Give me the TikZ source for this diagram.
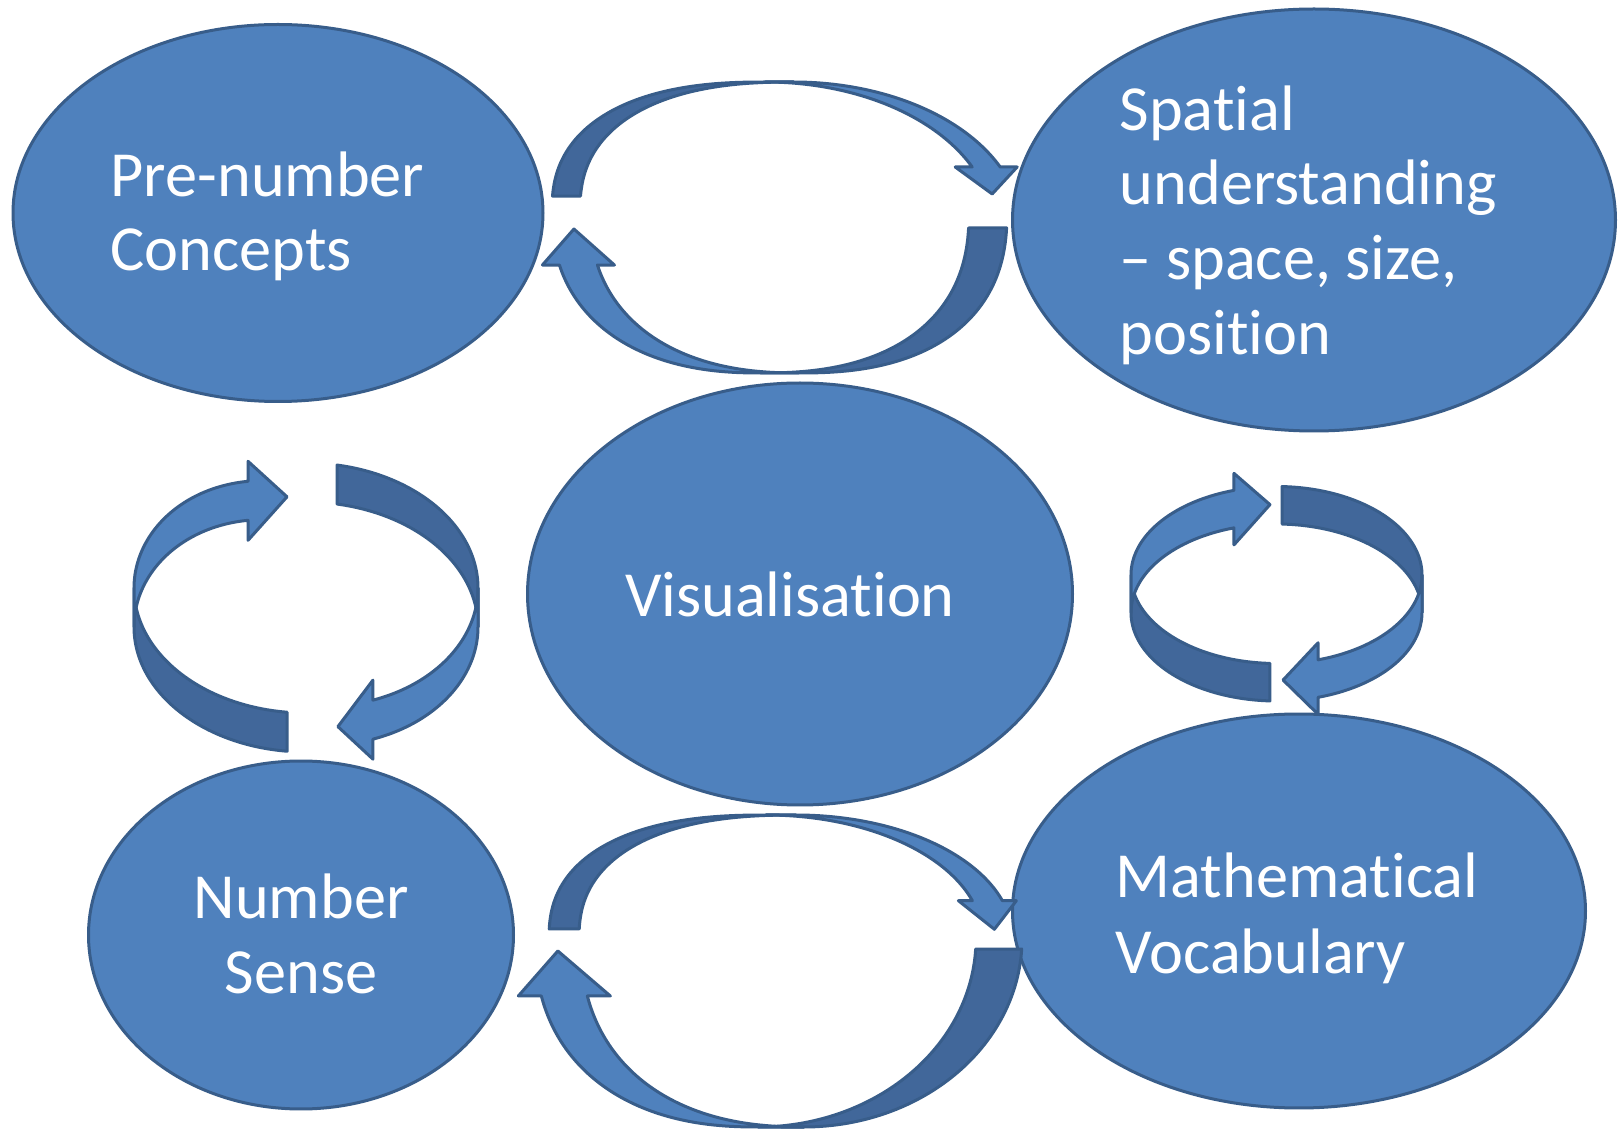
\documentclass[tikz,border=0pt]{standalone}
\usepackage{fontspec}
\setmainfont{Carlito}[Ligatures={CommonOff,ContextualOff}]
\usetikzlibrary{shapes.geometric}
\definecolor{fillb}{HTML}{4F81BD}
\definecolor{darkb}{HTML}{41679A}
\definecolor{lineb}{HTML}{385D8A}
% point of edge k (k=1,0,-1) of a (super)elliptic ribbon at angle #1
\newcommand\cEx[2]{\Ccx+\Crx*cos(#1)*pow(max(abs(cos(#1)),0.0001),\Cp)+(#2)*(\Cox)}
\newcommand\cEy[2]{\Ccy+\Cry*sin(#1)*pow(max(abs(sin(#1)),0.0001),\Cp)+(#2)*(\Coy)}
\newcommand\cRc[3]{(max((#1-(#2))/((#3)-(#2)),0))*(max((#1-(#2))/((#3)-(#2)),0))*(max((#1-(#2))/((#3)-(#2)),0))}
% plain ribbon piece from angle #2 to #3
\newcommand\cycband[3]{%
  \filldraw[#1] plot[domain=#2:#3,samples=60,variable=\t] ({\cEx{\t}{1}},{\cEy{\t}{1}})
   -- plot[domain=#3:#2,samples=60,variable=\t] ({\cEx{\t}{-1}},{\cEy{\t}{-1}}) -- cycle;}
% ribbon piece ending in an arrow head at angle #3
% #4,#5 tip offset from band middle, #6,#7 shift of the head end (cubic ramp)
\newcommand\cychead[7]{%
  \filldraw[#1] plot[domain=#2:#3,samples=60,variable=\t]
      ({\cEx{\t}{1}+(#6)*\cRc{\t}{#2}{#3}},{\cEy{\t}{1}+(#7)*\cRc{\t}{#2}{#3}})
   -- ({\cEx{#3}{1}+\Cbe*(\Cux)+(#6)},{\cEy{#3}{1}+\Cbe*(\Cuy)+(#7)})
   -- ({\cEx{#3}{0}+(#4)+(#6)},{\cEy{#3}{0}+(#5)+(#7)})
   -- ({\cEx{#3}{-1}-\Cbe*(\Cux)+(#6)},{\cEy{#3}{-1}-\Cbe*(\Cuy)+(#7)})
   -- plot[domain=#3:#2,samples=60,variable=\t]
      ({\cEx{\t}{-1}+(#6)*\cRc{\t}{#2}{#3}},{\cEy{\t}{-1}+(#7)*\cRc{\t}{#2}{#3}}) -- cycle;}
\begin{document}
\begin{tikzpicture}[x=0.1mm, y=-0.1mm,
  ell/.style={ellipse, draw=lineb, fill=fillb, line width=0.3mm, inner sep=0pt},
  lt/.style={draw=lineb, fill=fillb, line width=0.3mm, line join=round},
  dk/.style={draw=lineb, fill=darkb, line width=0.3mm, line join=round},
  lbl/.style={text=white, inner sep=0pt, font=\fontsize{18.3pt}{21pt}\selectfont}]
\useasboundingbox (0,0) rectangle (1620,1131);
\fill[white] (0,0) rectangle (1620,1131);

% ellipses
\node[ell, minimum width=53.0mm, minimum height=37.7mm] (pre) at (278,213) {};
\node[ell, minimum width=60.3mm, minimum height=42.2mm] (spa) at (1314,220) {};
\node[ell, minimum width=54.5mm, minimum height=42.2mm] (vis) at (800,594) {};
\node[ell, minimum width=42.5mm, minimum height=34.8mm] (num) at (301,935) {};
\node[ell, minimum width=57.3mm, minimum height=39.4mm] (mat) at (1299,911) {};

% labels
\node[lbl, anchor=base west] (pn1) at (110,196.7) {Pre-number};
\node[lbl, anchor=base west] (pn2) at (110,271) {Concepts};
\node[lbl, anchor=base west] (sp1) at (1119,131) {Spatial};
\node[lbl, anchor=base west] (sp2) at (1119,205) {understanding};
\node[lbl, anchor=base west] (sp3) at (1119,280) {– space, size,};
\node[lbl, anchor=base west] (sp4) at (1119,355) {position};
\node[lbl, anchor=base] (vi1) at (790,617) {Visualisation};
\node[lbl, anchor=base] (ns1) at (301,918) {Number};
\node[lbl, anchor=base] (ns2) at (301,994) {Sense};
\node[lbl, anchor=base west] (mv1) at (1115,897) {Mathematical};
\node[lbl, anchor=base west] (mv2) at (1115,973) {Vocabulary};

% ---------- top cycle ----------
\def\Ccx{779.5}\def\Ccy{211}\def\Cux{-1}\def\Cuy{0}\def\Coy{0}
\def\Crx{213.5}\def\Cry{129}\def\Cox{-14}\def\Cp{-0.1667}
\cycband{dk}{184.34}{270}
\def\Crx{208.5}\def\Cry{162}\def\Cox{-19}\def\Cp{-0.1667}
\cycband{dk}{3.83}{90}
\def\Crx{213.5}\def\Cry{129}\def\Cox{-14}\def\Cp{0}\def\Cbe{17}
\cychead{lt}{270}{340.05}{6}{27}{6}{0}
\def\Crx{208.5}\def\Cry{162}\def\Cox{-19}\def\Cp{-0.1304}\def\Cbe{17}
\cychead{lt}{90}{163.57}{-4.5}{-36}{0}{0}

% ---------- bottom cycle ----------
\def\Ccx{781}\def\Ccy{939}\def\Cux{-1}\def\Cuy{0}\def\Coy{0}
\def\Crx{217}\def\Cry{124}\def\Cox{-15}\def\Cp{-0.1667}
\cycband{dk}{182.8}{270}
\def\Crx{218}\def\Cry{188}\def\Cox{-23}\def\Cp{0}
\cycband{dk}{3.05}{90}
\def\Crx{217}\def\Cry{124}\def\Cox{-15}\def\Cp{0}\def\Cbe{14}
\cychead{lt}{270}{342}{7}{28.6}{0}{0}
\def\Crx{223}\def\Cry{188}\def\Cox{-23}\def\Cp{-0.1304}\def\Cbe{23}
\cychead{lt}{90}{165.32}{-6.5}{-45}{0}{0}

% ---------- left cycle ----------
\def\Ccx{306}\def\Ccy{607.5}\def\Crx{172}\def\Cry{125}
\def\Cox{0}\def\Coy{-19.5}\def\Cux{0}\def\Cuy{-1}\def\Cbe{20}\def\Cp{0}
\cycband{dk}{96.3}{180}
\cycband{dk}{280.4}{360}
\cychead{lt}{180}{250.3}{39}{-4}{0}{11}
\cychead{lt}{360}{427.1}{-35}{7}{0}{-3}

% ---------- right cycle ----------
\def\Ccx{1276.5}\def\Ccy{593.75}\def\Crx{145.5}\def\Cry{88.5}
\def\Cox{0}\def\Coy{-18.75}\def\Cux{0}\def\Cuy{-1}\def\Cbe{17}\def\Cp{0}
\cycband{dk}{92.6}{180}
\cycband{dk}{272.2}{360}
\cychead{lt}{180}{253}{36}{-4.5}{0}{0}
\cychead{lt}{360}{433.4}{-35}{1.5}{0}{0}
\end{tikzpicture}
\end{document}
